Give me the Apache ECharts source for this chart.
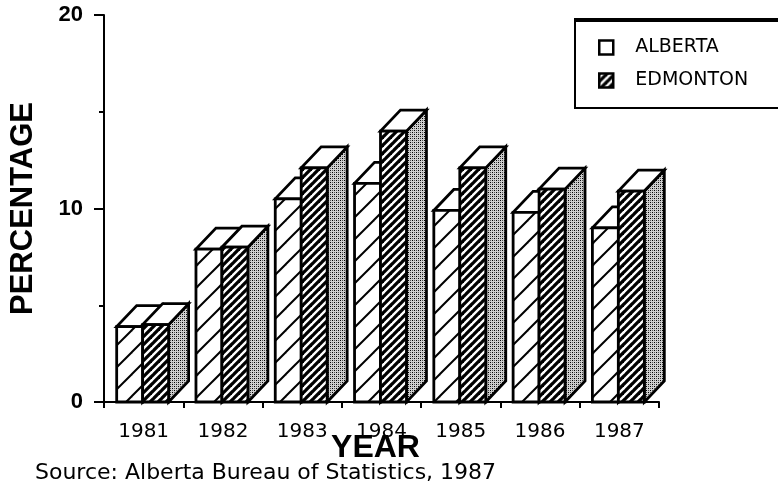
<!DOCTYPE html>
<html><head><meta charset="utf-8">
<script src="https://cdn.jsdelivr.net/npm/echarts@6/dist/echarts.min.js"></script>
<style>html,body{margin:0;padding:0;background:#fff}#c{width:778px;height:486px}</style>
</head><body><div id="c"></div>
<script>
// ---- data ----
const years = ['1981', '1982', '1983', '1984', '1985', '1986', '1987'];
const alberta = [3.9, 7.9, 10.5, 11.3, 9.9, 9.8, 9.0];
const edmonton = [4.0, 8.0, 12.1, 14.0, 12.1, 11.0, 10.9];
const seriesNames = ['ALBERTA', 'EDMONTON'];
const yMin = 0, yMax = 20, yStep = 10;

// ---- patterns ----
function makeCanvas(size, bg, draw) {
  const c = document.createElement('canvas');
  c.width = size; c.height = size;
  const g = c.getContext('2d');
  g.fillStyle = bg; g.fillRect(0, 0, size, size);
  draw(g, size);
  return c;
}
function diag(g, P, lw, color) {
  g.strokeStyle = color; g.lineWidth = lw;
  for (const o of [-P, 0, P]) {
    g.beginPath(); g.moveTo(o - 2, P + 2); g.lineTo(o + P + 2, -2); g.stroke();
  }
}
const lightHatch = { image: makeCanvas(22, '#fff', (g, P) => diag(g, P, 2, '#000')), repeat: 'repeat' };
const darkHatch = { image: makeCanvas(8, '#fff', (g, P) => diag(g, P, 3.3, '#000')), repeat: 'repeat' };
const stipple = { image: makeCanvas(4, '#cfcfcf', (g) => {
  g.fillStyle = '#000'; g.fillRect(0, 0, 1, 1); g.fillRect(2, 2, 1, 1);
  g.fillStyle = '#555'; g.fillRect(2, 0, 1, 1); g.fillRect(0, 2, 1, 1);
}), repeat: 'repeat' };

function makeRender(idx) {
  const front = idx === 0 ? lightHatch : darkHatch;
  const off = idx === 0 ? [-0.34, -0.0126] : [-0.0126, 0.315];
  return function (params, api) {
    const ci = api.value(0), v = api.value(1);
    const top = api.coord([ci, v]);
    const base = api.coord([ci, 0]);
    const bw = api.size([1, 0])[0];
    const x0 = top[0] + off[0] * bw, x1 = top[0] + off[1] * bw;
    const dx = 0.252 * bw, dy = 21;
    const yt = top[1], yb = base[1];
    const st = { stroke: '#000', lineWidth: 2.8, lineJoin: 'miter' };
    return {
      type: 'group',
      children: [
        { type: 'polygon', shape: { points: [[x1, yb], [x1 + dx, yb - dy], [x1 + dx, yt - dy], [x1, yt]] },
          style: Object.assign({ fill: stipple }, st) },
        { type: 'polygon', shape: { points: [[x0, yt], [x1, yt], [x1 + dx, yt - dy], [x0 + dx, yt - dy]] },
          style: Object.assign({ fill: '#fff' }, st) },
        { type: 'rect', shape: { x: x0, y: yt, width: x1 - x0, height: yb - yt },
          style: Object.assign({ fill: front }, st) }
      ]
    };
  };
}

const chart = echarts.init(document.getElementById('c'), null, { renderer: 'canvas' });
chart.setOption({
  backgroundColor: '#fff',
  animation: false,
  grid: { left: 103, right: 119, top: 15, bottom: 84, containLabel: false },
  xAxis: {
    type: 'category', data: years, boundaryGap: true,
    name: 'YEAR', nameLocation: 'middle', nameGap: 30, nameMoveOverlap: false,
    nameTextStyle: { fontFamily: 'Liberation Sans', fontWeight: 'bold', fontSize: 32, color: '#000', padding: [0, 12, 0, 0] },
    axisLine: { lineStyle: { color: '#000', width: 2 } },
    axisTick: { show: true, alignWithLabel: false, length: 6, lineStyle: { color: '#000', width: 2 } },
    axisLabel: { margin: 20, fontFamily: 'DejaVu Sans', fontSize: 20, color: '#000' },
    splitLine: { show: false }
  },
  yAxis: {
    type: 'value', min: yMin, max: yMax, interval: yStep,
    name: 'PERCENTAGE', nameLocation: 'middle', nameGap: 65, nameRotate: 90, nameMoveOverlap: false,
    nameTextStyle: { fontFamily: 'Liberation Sans', fontWeight: 'bold', fontSize: 31, color: '#000' },
    axisLine: { show: true, lineStyle: { color: '#000', width: 2 } },
    axisTick: { show: true, length: 10, lineStyle: { color: '#000', width: 2 } },
    minorTick: { show: true, splitNumber: 2, length: 5, lineStyle: { color: '#000', width: 2 } },
    axisLabel: { margin: 21, fontFamily: 'Liberation Sans', fontWeight: 'bold', fontSize: 22, color: '#000' },
    splitLine: { show: false }
  },
  legend: {
    orient: 'vertical', left: 593, top: 33,
    itemWidth: 14, itemHeight: 14, itemGap: 14,
    icon: 'rect',
    textStyle: { fontFamily: 'DejaVu Sans', fontSize: 19, lineHeight: 19, color: '#000', padding: [0, 0, 0, 17] },
    data: [
      { name: seriesNames[0], itemStyle: { color: '#fff', borderColor: '#000', borderWidth: 2.5 } },
      { name: seriesNames[1], itemStyle: { color: darkHatch, borderColor: '#000', borderWidth: 2.5 } }
    ]
  },
  graphic: [
    { type: 'rect', left: 574, top: 20, z: -1, shape: { width: 230, height: 87 },
      style: { fill: '#fff', stroke: '#000', lineWidth: 2 } },
    { type: 'line', z: 10, shape: { x1: 574, y1: 20, x2: 778, y2: 20 }, style: { stroke: '#000', lineWidth: 4 } },
    { type: 'text', left: 35, top: 462, style: { text: 'Source: Alberta Bureau of Statistics, 1987',
      font: '22px "DejaVu Sans"', fill: '#000' } }
  ],
  series: [
    { type: 'custom', name: seriesNames[0], renderItem: makeRender(0), encode: { x: 0, y: 1 },
      itemStyle: { color: '#fff' }, data: alberta.map((v, i) => [i, v]) },
    { type: 'custom', name: seriesNames[1], renderItem: makeRender(1), encode: { x: 0, y: 1 },
      itemStyle: { color: '#000' }, data: edmonton.map((v, i) => [i, v]) }
  ]
});
</script>
</body></html>
